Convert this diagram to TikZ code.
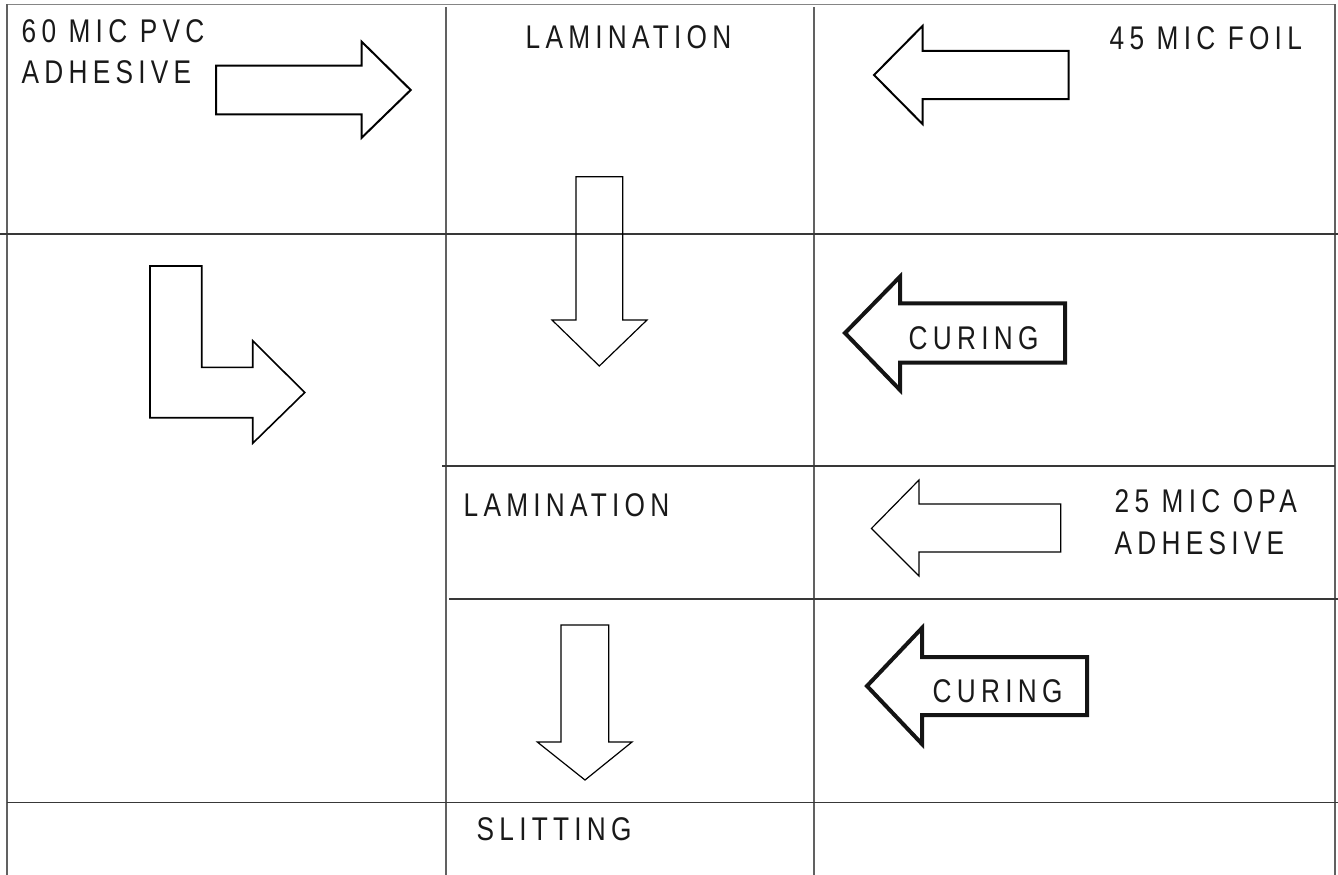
\documentclass[tikz,border=0pt]{standalone}
\usepackage{fontspec}
\setmainfont{Liberation Sans}[FakeStretch=0.8, LetterSpace=16]
\begin{document}
\begin{tikzpicture}[x=1pt, y=-1pt,
  gridline/.style={draw=black!78, line width=1.2pt},
  colline/.style={draw=black!62, line width=1.2pt},
  frameline/.style={draw=black!48, line width=1.6pt},
  blockarrow/.style={draw=black, line width=2pt, line join=miter},
  larrow/.style={draw=black, line width=1.6pt, line join=miter},
  thinarrow/.style={draw=black, line width=1.2pt, line join=miter},
  boldarrow/.style={draw=black!92, line width=4pt, line join=miter},
  lbl/.style={anchor=base west, inner sep=0pt, text=black!90,
    font=\fontsize{32.8}{41}\selectfont}]
\useasboundingbox (0,0) rectangle (1338,875);

% table frame and columns
\draw[frameline] (7,4.5) -- (1335,4.5);
\draw[colline] (7,4.5) -- (7,875);
\draw[colline] (446,7) -- (446,875);
\draw[colline] (814,7) -- (814,875);
\draw[colline] (1335,4.5) -- (1335,875);

% rows
\draw[gridline] (0,234) -- (1338,234);
\draw[gridline] (442,466) -- (1335,466);
\draw[gridline] (449,599) -- (1338,599);
\draw[gridline] (7,802.5) -- (1338,802.5);

% labels
\node[lbl] (pvc)   at (21.5,43)   {60 MIC PVC};
\node[lbl] (pvcad) at (21.5,84)   {ADHESIVE};
\node[lbl] (lamA)  at (525.5,48.3) {LAMINATION};
\node[lbl] (foil)  at (1109.5,49.3) {45 MIC FOIL};
\node[lbl] (curA)  at (908.5,349.3) {CURING};
\node[lbl] (lamB)  at (463.5,516)  {LAMINATION};
\node[lbl] (opa)   at (1114.5,512.7) {25 MIC OPA};
\node[lbl] (opaad) at (1114.5,554.3) {ADHESIVE};
\node[lbl] (curB)  at (932.5,702.7) {CURING};
\node[lbl] (slit)  at (476.5,840.7) {SLITTING};

% block arrows
% PVC feed into lamination
\draw[blockarrow] (216,65.7) -- (361.7,65.7) -- (361.7,41.7) -- (410.7,90)
  -- (361.7,137.7) -- (361.7,114.3) -- (216,114.3) -- cycle;
% foil feed into lamination
\draw[blockarrow] (1068.7,51) -- (922.5,51) -- (922.5,26) -- (874,75)
  -- (922.5,124) -- (922.5,99) -- (1068.7,99) -- cycle;
% lamination down
\draw[thinarrow] (576,176.7) -- (622.7,176.7) -- (622.7,320) -- (647,320)
  -- (599.3,366) -- (552,320) -- (576,320) -- cycle;
% bent return arrow
\draw[larrow] (150,266) -- (201.7,266) -- (201.7,367.3) -- (252.7,367.3)
  -- (252.7,340.7) -- (304.7,392.5) -- (252.7,443.3) -- (252.7,417.7)
  -- (150,417.7) -- cycle;
% first curing
\draw[boldarrow] (1065,303.3) -- (900,303.3) -- (900,276.7) -- (845,333)
  -- (900,390) -- (900,362.7) -- (1065,362.7) -- cycle;
% OPA feed
\draw[thinarrow] (1060.8,504) -- (919,504) -- (919,480) -- (871.4,528.5)
  -- (919,576) -- (919,552) -- (1060.8,552) -- cycle;
% second curing
\draw[boldarrow] (1087,657) -- (922,657) -- (922,628) -- (867,686)
  -- (922,744) -- (922,715) -- (1087,715) -- cycle;
% down to slitting
\draw[thinarrow] (561,625) -- (608.7,625) -- (608.7,742) -- (632,742)
  -- (585,780) -- (537.3,742) -- (561,742) -- cycle;
\end{tikzpicture}
\end{document}
